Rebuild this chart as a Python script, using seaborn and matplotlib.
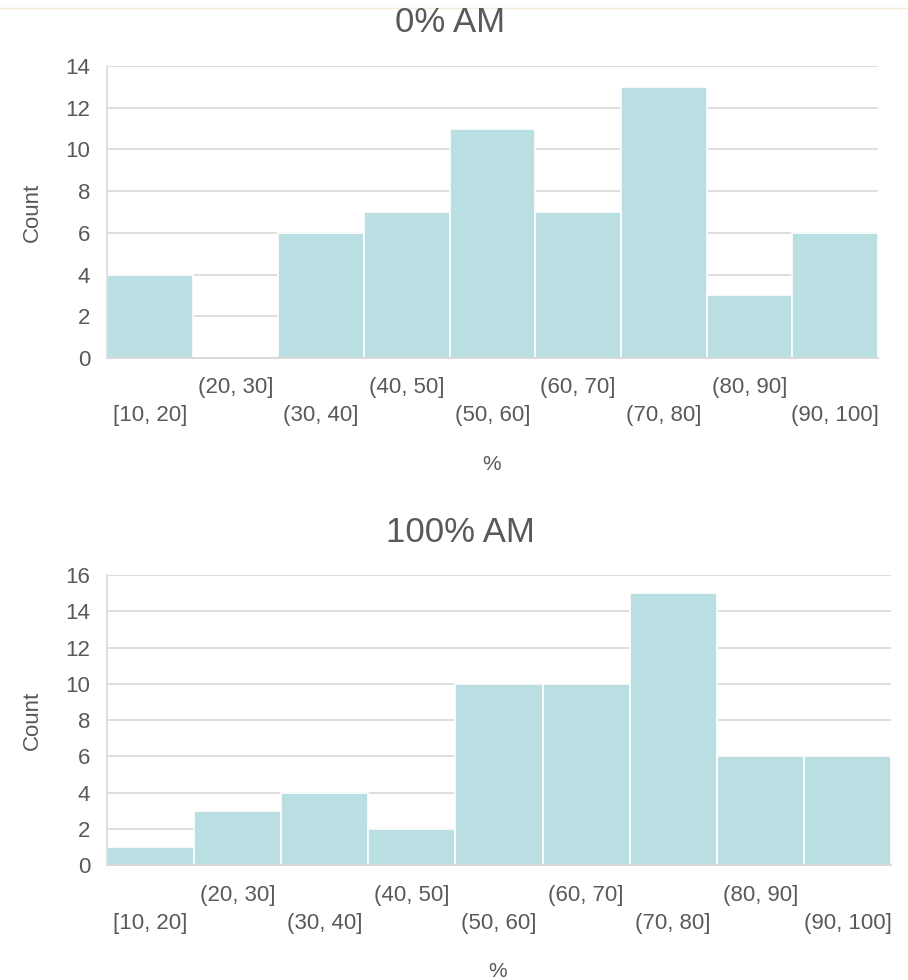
import matplotlib
matplotlib.use("Agg")
import matplotlib.pyplot as plt
import seaborn as sns
import pandas as pd

bins = ["[10, 20]", "(20, 30]", "(30, 40]", "(40, 50]", "(50, 60]",
        "(60, 70]", "(70, 80]", "(80, 90]", "(90, 100]"]
counts_0am = [4, 0, 6, 7, 11, 7, 13, 3, 6]
counts_100am = [1, 3, 4, 2, 10, 10, 15, 6, 6]
titles = ["0% AM", "100% AM"]
ymax = [14, 16]

sns.set_theme(style="white")
plt.rcParams["font.family"] = ["Liberation Sans", "DejaVu Sans"]

TXT = "#595959"
GRID = "#d9d9d9"
BAR = "#b9dfe3"

fig = plt.figure(figsize=(9.08, 9.80), dpi=100)

W, H = 908, 980
def px_rect(l, t, r, b):
    return [l / W, 1 - b / H, (r - l) / W, (b - t) / H]

axes_px = [(107, 66, 878, 358), (107, 575, 891, 865)]
title_pos = [(450, 23), (460, 533)]

for i, (counts, title, ym) in enumerate(zip([counts_0am, counts_100am], titles, ymax)):
    l, t, r, b = axes_px[i]
    ax = fig.add_axes(px_rect(l, t, r, b))
    df = pd.DataFrame({"bin": bins, "count": counts})
    sns.barplot(data=df, x="bin", y="count", ax=ax, color=BAR, width=1.0,
                saturation=1, edgecolor="white", linewidth=1.2, zorder=2)
    for p, c in zip(ax.patches, counts):
        if c == 0:
            p.set_visible(False)
    ax.set_xlim(-0.5, len(bins) - 0.5)
    ax.set_ylim(0, ym)
    ax.set_yticks(range(0, ym + 1, 2))
    ax.yaxis.grid(True, color=GRID, linewidth=1.2, zorder=0)
    ax.set_axisbelow(True)
    ax.axhline(0, color=GRID, linewidth=1.5, zorder=3, clip_on=False)
    for s in ["top", "right", "bottom"]:
        ax.spines[s].set_visible(False)
    ax.spines["left"].set_color(GRID)
    ax.spines["left"].set_linewidth(1.2)
    ax.tick_params(axis="y", colors=TXT, labelsize=16, length=0, pad=12)
    ax.set_xticks([])
    ax.set_xlabel("")
    ax.set_ylabel("")
    # staggered category labels
    for j, lab in enumerate(bins):
        off = 30 if j % 2 == 1 else 58
        ax.annotate(lab, xy=(j, 0), xycoords=("data", "axes fraction"),
                    xytext=(0, -off * 0.72), textcoords="offset points",
                    ha="center", va="center", fontsize=16, color=TXT)
    fig.text(title_pos[i][0] / W, 1 - title_pos[i][1] / H, title,
             ha="center", va="center", fontsize=25, color=TXT)
    fig.text(32 / W, 1 - ((t + b) / 2) / H, "Count", rotation=90,
             ha="center", va="center", fontsize=16, color=TXT)
    fig.text(((l + r) / 2 - 1) / W, 1 - (b + 106) / H, "%",
             ha="center", va="center", fontsize=15, color=TXT)

fig.add_artist(plt.Line2D([0, 1], [1 - 8 / H, 1 - 8 / H], color="#f3eadb",
                          linewidth=1, transform=fig.transFigure))

fig.savefig("out.png", dpi=100, facecolor="white")
